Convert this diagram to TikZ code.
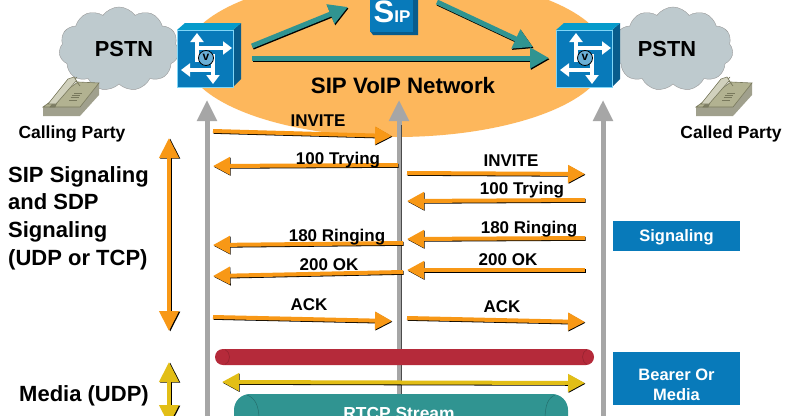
\documentclass[tikz,border=0pt]{standalone}
\usepackage{fontspec}
\setmainfont{Liberation Sans}
\usetikzlibrary{arrows.meta,shapes.geometric,shapes.symbols}
\definecolor{bluebox}{RGB}{8,122,186}
\definecolor{bluedark}{RGB}{8,92,140}
\definecolor{netorange}{RGB}{253,183,92}
\definecolor{sigorange}{RGB}{248,152,22}
\definecolor{tealgreen}{RGB}{48,148,145}
\definecolor{pipered}{RGB}{181,42,58}
\definecolor{mediayellow}{RGB}{226,190,22}
\definecolor{cloudgray}{RGB}{190,202,206}
\definecolor{phonegray}{RGB}{178,178,145}
\definecolor{phonedark}{RGB}{120,120,92}
\tikzset{
  tipmsg/.tip={Triangle[length=17,width=17]},
  tipnet/.tip={Triangle[length=19,width=20]},
  tipside/.tip={Triangle[length=20,width=19]},
  tiprouter/.tip={Triangle[length=9,width=13]},
  bigtext/.style={font=\fontsize{22}{27.7}\selectfont\bfseries, align=left},
  partytext/.style={font=\fontsize{17.5}{20}\selectfont\bfseries},
  msgtext/.style={font=\fontsize{17}{20}\selectfont\bfseries},
  pstntext/.style={font=\fontsize{21.8}{24}\selectfont\bfseries},
  pstncloud/.style={cloud, cloud puffs=11, cloud puff arc=110, aspect=1.5, draw=gray!80, fill=cloudgray, inner sep=0pt, minimum width=120, minimum height=84},
  msgarrow/.style={line width=4, -tipmsg, preaction={draw=black, line width=4, -tipmsg, transform canvas={shift={(0.6,0.8)}}}},
  botharrow/.style={line width=4, tipmsg-tipmsg, preaction={draw=black, line width=4, tipmsg-tipmsg, transform canvas={shift={(0.6,0.8)}}}},
  netarrow/.style={line width=5, draw=tealgreen, -tipnet, preaction={draw=black, line width=5, -tipnet, transform canvas={shift={(0.8,1.2)}}}},
  sidearrow/.style={line width=4, tipside-tipside, preaction={draw=black, line width=4, tipside-tipside, transform canvas={shift={(1.2,0.6)}}}},
  lifeline/.style={line width=5, draw=gray!70, -{Triangle[length=21,width=19]}},
  sidebox/.style={fill=bluebox, minimum width=127, inner sep=0pt},
  sidetext/.style={text=white, align=center, inner sep=0pt, font=\fontsize{16.5}{20}\selectfont\bfseries}
}
\newcommand{\routericon}[3]{% name, x, y of the front face centre
  \begin{scope}[shift={(#2,#3)}]
    \fill[bluedark] (28,-28) -- (36,-35) -- (36,21) -- (28,29) -- cycle;
    \fill[bluebox!75!cyan] (-28,-28) -- (-20,-35) -- (36,-35) -- (28,-28) -- cycle;
    \node[fill=bluebox, draw=cyan!50, minimum width=56, minimum height=57, inner sep=0pt] (#1) at (0,0.5) {};
    \draw[white, line width=3.5, -tiprouter] (-8,4) -- (-8,-25);
    \draw[white, line width=3.5, -tiprouter] (-8,-10) -- (27,-10);
    \draw[white, line width=3.5, -tiprouter] (8,12) -- (-24,12);
    \draw[white, line width=3.5, -tiprouter] (8,-4) -- (8,26);
    \draw[black, line width=0.8, fill=bluebox!60!white] (1,0) circle (7.5);
    \node[font=\fontsize{12}{12}\selectfont\bfseries, text=black, inner sep=0pt] (#1v) at (1,-0.5) {v};
  \end{scope}
}
\newcommand{\phoneicon}[2]{% x, y of the lower left corner
  \begin{scope}[shift={(#1,#2)}]
    \fill[phonedark!70] (0,0) -- (37,0) -- (56,-21) -- (56,-33) -- (37,-9) -- (0,-9) -- cycle;
    \fill[phonegray, draw=phonedark, line width=0.6] (0,-9) -- (37,-9) -- (56,-33) -- (35,-34) -- cycle;
    \fill[phonegray!70!black, draw=phonedark, line width=0.6] (7,-9) -- (12,-15) -- (34,-39) -- (30,-34) -- (22,-33) -- (17,-20) -- (12,-9) -- cycle;
    \fill[phonegray!60!white, draw=phonedark, line width=0.6] (5,-12) -- (13,-12) -- (33,-35) -- (37,-30) -- (31,-39) -- (25,-37) -- cycle;
    \foreach \k in {0,1,2,3}{
      \draw[phonedark, line width=0.7] (26+\k*1.6,-16-\k*2.2) -- (34+\k*1.6,-16-\k*2.2);
    }
  \end{scope}
}
\begin{document}
\begin{tikzpicture}[x=1pt,y=-1pt]
\useasboundingbox (0,0) rectangle (789,415);
\clip (0,0) rectangle (789,415);
\fill[white] (0,0) rectangle (789,415);
% network
\node[ellipse, fill=netorange, minimum width=422, minimum height=162, inner sep=0pt] (net) at (396,56) {};
\node[pstncloud] (cloudL) at (119,49) {};
\node[pstncloud] (cloudR) at (673,49) {};
\node[pstntext] (pstnL) at (124,49) {PSTN};
\node[pstntext] (pstnR) at (667,49) {PSTN};
\phoneicon{43}{116}
\phoneicon{696}{116}
\routericon{routerL}{205}{58}
\routericon{routerR}{584}{58}
% sip server
\fill[bluedark] (370,31) -- (373,35) -- (418,35) -- (418,-2) -- (413,-2) -- (413,31) -- cycle;
\node[fill=bluebox, minimum width=43, minimum height=34, inner sep=0pt] (sip) at (391.5,15) {};
\node[text=white, anchor=base, inner sep=0pt, font=\bfseries] (siptext) at (392,23) {{\fontsize{31}{31}\selectfont S}{\fontsize{17}{17}\selectfont IP}};
\node[bigtext, font=\fontsize{22.3}{27}\selectfont\bfseries] (nettext) at (403,86) {SIP VoIP Network};
% arrows in the network
\coordinate (gA) at (252,46);
\coordinate (gB) at (348,7);
\coordinate (gC) at (437,2);
\coordinate (gD) at (533,47);
\coordinate (gE) at (252,58);
\coordinate (gF) at (549,58);
\draw[netarrow] (gA) -- (gB);
\draw[netarrow] (gC) -- (gD);
\draw[netarrow] (gE) -- (gF);
% life lines
\foreach \n/\x in {A/207,B/399,C/603}{
  \coordinate (top\n) at (\x,100);
  \coordinate (bot\n) at (\x,420);
  \draw[lifeline] (bot\n) -- (top\n);
}
\draw[black!70, line width=1] (401.5,125) -- (401.5,400);
\node[partytext] (calling) at (72,134) {Calling Party};
\node[partytext] (called) at (731,134) {Called Party};
\node[bigtext, anchor=north west, inner sep=0pt] (siglabel) at (8,166) {SIP Signaling\\and SDP\\Signaling\\(UDP or TCP)};
\node[bigtext, inner sep=0pt] (medialabel) at (84,396) {Media (UDP)};
% messages
\foreach \i/\ax/\ay/\bx/\by/\tx/\ty/\msg in {
  1/213/131/392/136/318/121/INVITE,
  2/398/165/213/166/338/160/100 Trying,
  3/407/173/585/174/511/161/INVITE,
  4/585/200/407/201/522/190/100 Trying,
  5/403/243/213/245/337/237/180 Ringing,
  6/585/238/407/239/529/229/180 Ringing,
  7/403/272/213/276/329/265/200 OK,
  8/585/270/407/270/508/260/200 OK,
  9/213/317/392/321/309/305/ACK,
  10/407/318/585/322/502/307/ACK}{
  \coordinate (from\i) at (\ax,\ay);
  \coordinate (to\i) at (\bx,\by);
  \draw[msgarrow, draw=sigorange] (from\i) -- (to\i);
  \node[msgtext, inner sep=0pt] (msg\i) at (\tx,\ty) {\msg};
}
% side arrows
\coordinate (sigtop) at (169,138);
\coordinate (sigbot) at (169,331);
\coordinate (medtop) at (169,362);
\coordinate (medbot) at (169,425);
\draw[sidearrow, draw=sigorange] (sigtop) -- (sigbot);
\draw[sidearrow, draw=mediayellow] (medtop) -- (medbot);
% bearer
\node[fill=pipered, rounded corners=8, minimum width=379, minimum height=16, inner sep=0pt] (rtp) at (404.5,357) {};
\draw[pipered!80!black, line width=0.5] (225,349.5) .. controls (231,352) and (231,362) .. (225,364.5);
\draw[pipered!80!black, line width=0.5] (587,349.5) .. controls (581,352) and (581,362) .. (587,364.5);
\coordinate (medL) at (222,382);
\coordinate (medR) at (585,383);
\draw[botharrow, draw=mediayellow] (medL) -- (medR);
\node[fill=tealgreen, rounded corners=16, minimum width=334, minimum height=60, inner sep=0pt] (rtcp) at (401,424) {};
\draw[tealgreen!75!black, line width=0.5] (247,395) .. controls (255,398) and (259,405) .. (259,420);
\draw[tealgreen!75!black, line width=0.5] (555,395) .. controls (548,398) and (545,405) .. (545,420);
\node[font=\fontsize{17.4}{20}\selectfont\bfseries, text=white, inner sep=0pt] (rtcptext) at (399,414) {RTCP Stream};
% side boxes
\node[sidebox, minimum height=30] (signaling) at (676.5,236) {};
\node[sidetext] (signalingtext) at (676.5,237) {Signaling};
\node[sidebox, minimum height=53] (bearer) at (676.5,378.5) {};
\node[sidetext] (bearertext) at (676.5,385) {Bearer Or\\Media};
\end{tikzpicture}
\end{document}
